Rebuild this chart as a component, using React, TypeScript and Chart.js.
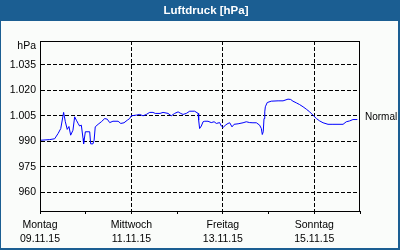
import React, { useEffect, useRef } from "react";
import { Chart, registerables } from "chart.js";

Chart.register(...registerables);

// hours since Mon 09.11.15 00:00
const hours = [
  0, 5.1, 7.7, 9.5, 10.9, 12.4, 13.3, 14.3, 15.2, 16.1, 17.3, 18.2, 19.1, 20, 20.8, 21.7, 22.6, 22.9,
  23.8, 26.1, 26.6, 27.8, 28.4, 29, 30.5, 32.2, 34, 35.3, 36.6, 38.3, 41, 42.4, 44.1, 45.8, 47.1,
  47.9, 50.6, 52.3, 54.1, 55.8, 57.6, 59.3, 60.5, 63, 64.6, 67.2, 68.9, 70.7, 72.5, 73.9, 75.1,
  76.8, 78.6, 81.2, 83, 83.3, 83.8, 84.7, 85.6, 86.5, 88.2, 89.9, 91.4, 92.6, 94.3, 95.2, 96.1,
  97.3, 98.7, 99.6, 100.8, 101.9, 104, 106.6, 108.3, 110.1, 111.8, 113.6, 115.3, 116.2, 116.7,
  117.2, 117.6, 118, 118.3, 119.3, 121.4, 125, 127.6, 130.2, 131.6, 132.8, 134.6, 136.3, 138.1,
  139.8, 141.6, 143.3, 145.1, 146.8, 148.6, 151.2, 153.8, 159.1, 160.8, 162.6, 164.3, 166.6,
];
const pressure = [
  990.6, 991, 991.5, 994.6, 997.5, 1007, 1001.5, 997, 998.7, 993.6, 996.5, 1004.4, 1002.4, 1000.5,
  999, 999.5, 991.6, 988.5, 995.6, 995.6, 988.5, 988.5, 990.6, 998.5, 1000, 1001.5, 1003.4, 1003,
  1001, 1001.8, 1001.8, 1000.5, 1000.9, 1002.4, 1003.4, 1005, 1005.4, 1005.8, 1005, 1005.8, 1007,
  1007, 1006.4, 1006.4, 1007, 1006.4, 1005, 1006.4, 1007.3, 1006.4, 1005.8, 1006.4, 1007.7, 1007.7,
  1006.4, 1002.4, 997.5, 999, 1001.5, 1001.8, 1001.8, 1001, 1001.5, 1000.5, 1001, 999, 998, 999.5,
  1000.5, 1000.9, 998.5, 1000, 1000.3, 1000.9, 1001.5, 1001, 1000.9, 1000.9, 999.5, 997.5, 994,
  995.6, 1003.4, 1007.3, 1010.3, 1012.8, 1013.6, 1013.8, 1013.8, 1014.8, 1014.6, 1013.6, 1012.6,
  1011.6, 1010.3, 1008.9, 1007.3, 1005.4, 1003.4, 1002, 1000.9, 1000, 1000, 1000, 1001.5, 1002,
  1002.8, 1002.8,
];

const yTickValues = [960, 975, 990, 1005, 1020, 1035];
const yTickLabels = ["960", "975", "990", "1.005", "1.020", "1.035"];
const xTickHours = [0, 48, 96, 144];
const xDayLabels = ["Montag", "Mittwoch", "Freitag", "Sonntag"];
const xDateLabels = ["09.11.15", "11.11.15", "13.11.15", "15.11.15"];
const normalValue = 1004;

const TITLE = "Luftdruck [hPa]";
const BLUE = "#1B5E92";
const BG = "#FAFCFA";
const FONT = "'Liberation Sans', Arial, sans-serif";
const DASH = [4, 2];

export default function App() {
  const ref = useRef<HTMLCanvasElement>(null);
  useEffect(() => {
    const frame = {
      id: "frame",
      beforeDraw(chart: any) {
        const c = chart.ctx;
        c.save();
        c.fillStyle = BLUE;
        c.fillRect(0, 0, 400, 250);
        c.fillStyle = BG;
        c.fillRect(1, 21, 397, 227);
        c.fillStyle = "#ffffff";
        c.font = `bold 11.5px ${FONT}`;
        c.textAlign = "center";
        c.textBaseline = "middle";
        c.fillText(TITLE, 206, 10.5);
        c.restore();
      },
      afterDraw(chart: any) {
        const c = chart.ctx;
        const a = chart.chartArea;
        const y = chart.scales.y;
        c.save();
        c.strokeStyle = "#000";
        c.lineWidth = 1;
        c.strokeRect(a.left + 0.5, a.top + 0.5, a.right - a.left - 1, a.bottom - a.top);
        c.fillStyle = "#000";
        c.font = `10.5px ${FONT}`;
        c.textAlign = "right";
        c.textBaseline = "middle";
        c.fillText("hPa", 36, 46);
        c.textAlign = "left";
        c.font = `10px ${FONT}`;
        c.fillText("Normal", 365, y.getPixelForValue(normalValue));
        c.restore();
      },
    };
    const chart = new Chart(ref.current!, {
      type: "line",
      data: {
        datasets: [
          {
            data: hours.map((h, i) => ({ x: h, y: pressure[i] })),
            borderColor: "#0000FF",
            borderWidth: 1,
            pointRadius: 0,
            tension: 0,
            fill: false,
          },
        ],
      },
      options: {
        animation: false,
        responsive: false,
        devicePixelRatio: 1,
        layout: { padding: { left: 0, right: 40, top: 41, bottom: 0 } },
        plugins: { legend: { display: false }, tooltip: { enabled: false }, title: { display: false } },
        scales: {
          x: {
            type: "linear",
            min: 0,
            max: 168,
            afterFit: (s: any) => {
              s.height = 39;
            },
            afterBuildTicks: (s: any) => {
              s.ticks = [0, 24, 48, 72, 96, 120, 144, 168].map((v) => ({ value: v }));
            },
            ticks: {
              autoSkip: false,
              maxRotation: 0,
              padding: 4,
              color: "#000",
              font: { family: FONT, size: 10.5, lineHeight: 1.35 },
              callback: (v: any) => {
                const i = xTickHours.indexOf(v);
                return i >= 0 ? [xDayLabels[i], xDateLabels[i]] : "";
              },
            },
            grid: {
              color: (ctx: any) =>
                ctx.tick && xTickHours.indexOf(ctx.tick.value) >= 0 && ctx.tick.value !== 0
                  ? "#000"
                  : "rgba(0,0,0,0)",
              tickColor: "#000",
              tickLength: 3,
              lineWidth: 1,
            },
            border: { display: true, color: "#000", dash: DASH },
          },
          y: {
            type: "linear",
            min: 949,
            max: 1049,
            afterFit: (s: any) => {
              s.width = 40;
            },
            afterBuildTicks: (s: any) => {
              s.ticks = yTickValues.map((v) => ({ value: v }));
            },
            ticks: {
              padding: 4,
              color: "#000",
              font: { family: FONT, size: 10.5 },
              callback: (v: any) => {
                const i = yTickValues.indexOf(v);
                return i >= 0 ? yTickLabels[i] : "";
              },
            },
            grid: { color: "#000", drawTicks: false, lineWidth: 1 },
            border: { display: true, color: "#000", dash: DASH },
          },
        },
      },
      plugins: [frame],
    });
    return () => chart.destroy();
  }, []);
  return (
    <div style={{ position: "fixed", left: 0, top: 0, width: 400, height: 250 }}>
      <canvas ref={ref} width={400} height={250} style={{ width: 400, height: 250, display: "block" }} />
    </div>
  );
}
